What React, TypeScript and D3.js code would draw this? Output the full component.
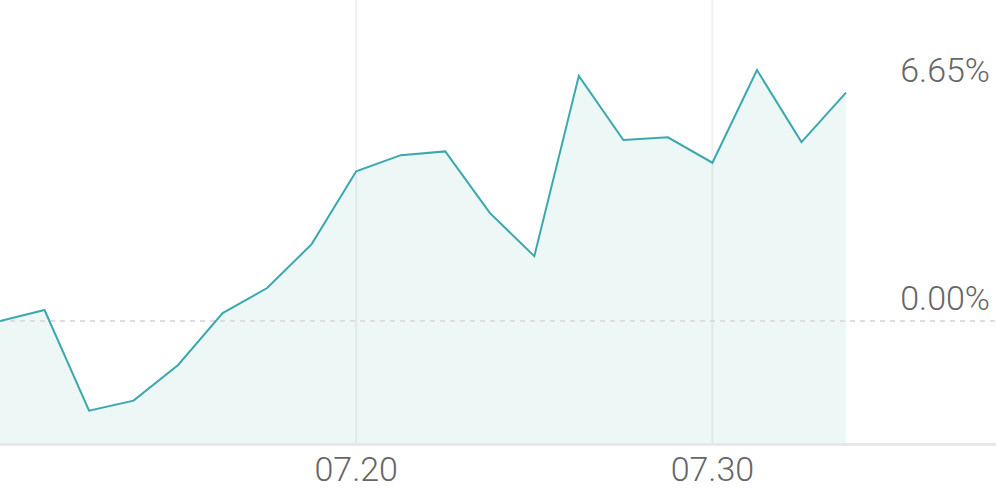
import React from "react";
import * as d3 from "d3";

const dates = [
  "07.08", "07.09", "07.10", "07.13", "07.14", "07.15", "07.16", "07.17",
  "07.20", "07.21", "07.22", "07.23", "07.24", "07.27", "07.28", "07.29",
  "07.30", "07.31", "08.03", "08.04",
];
const returns = [
  0.0, 0.32, -2.61, -2.32, -1.28, 0.23, 0.96, 2.24, 4.36, 4.83,
  4.94, 3.15, 1.89, 7.14, 5.27, 5.35, 4.61, 7.31, 5.21, 6.65,
];
const xTickLabels = ["07.20", "07.30"];
const yMarks = [6.65, 0.0];

const W = 996;
const H = 490;

export default function App() {
  const x = d3.scalePoint<string>().domain(dates).range([0, 846]).padding(0);
  const y = d3.scaleLinear().domain([0, 6.65]).range([321, 92.7]);
  const bottom = 443;

  const data = dates.map((d, i) => ({ d, v: returns[i] }));
  const line = d3
    .line<{ d: string; v: number }>()
    .x((p) => x(p.d) as number)
    .y((p) => y(p.v));
  const area = d3
    .area<{ d: string; v: number }>()
    .x((p) => x(p.d) as number)
    .y0(bottom)
    .y1((p) => y(p.v));

  const font = "Roboto, 'Noto Sans', sans-serif";

  return (
    <div style={{ position: "fixed", left: 0, top: 0, width: W, height: H, background: "#fff" }}>
      <svg width={W} height={H} style={{ display: "block" }}>
        {xTickLabels.map((t) => (
          <line
            key={"g" + t}
            x1={x(t)}
            x2={x(t)}
            y1={0}
            y2={bottom}
            stroke="#f0f0f0"
            strokeWidth={2}
          />
        ))}
        <path d={area(data) || ""} fill="rgba(64,170,160,0.095)" />
        <line
          x1={0}
          x2={W}
          y1={y(0)}
          y2={y(0)}
          stroke="#dddddd"
          strokeWidth={2}
          strokeDasharray="5,5"
        />
        <path d={line(data) || ""} fill="none" stroke="#3aa8ae" strokeWidth={2} />
        <line x1={0} x2={W} y1={bottom + 1.5} y2={bottom + 1.5} stroke="#e7e7e7" strokeWidth={3} />
        {xTickLabels.map((t) => (
          <text
            key={"t" + t}
            x={x(t)}
            y={481}
            textAnchor="middle"
            fontFamily={font}
            fontWeight={300}
            fontSize={34}
            fill="#666"
          >
            {t}
          </text>
        ))}
        {yMarks.map((v) => (
          <text
            key={"y" + v}
            x={990}
            y={y(v) - 11}
            textAnchor="end"
            fontFamily={font}
            fontWeight={300}
            fontSize={34}
            fill="#666"
          >
            {v.toFixed(2) + "%"}
          </text>
        ))}
      </svg>
    </div>
  );
}
